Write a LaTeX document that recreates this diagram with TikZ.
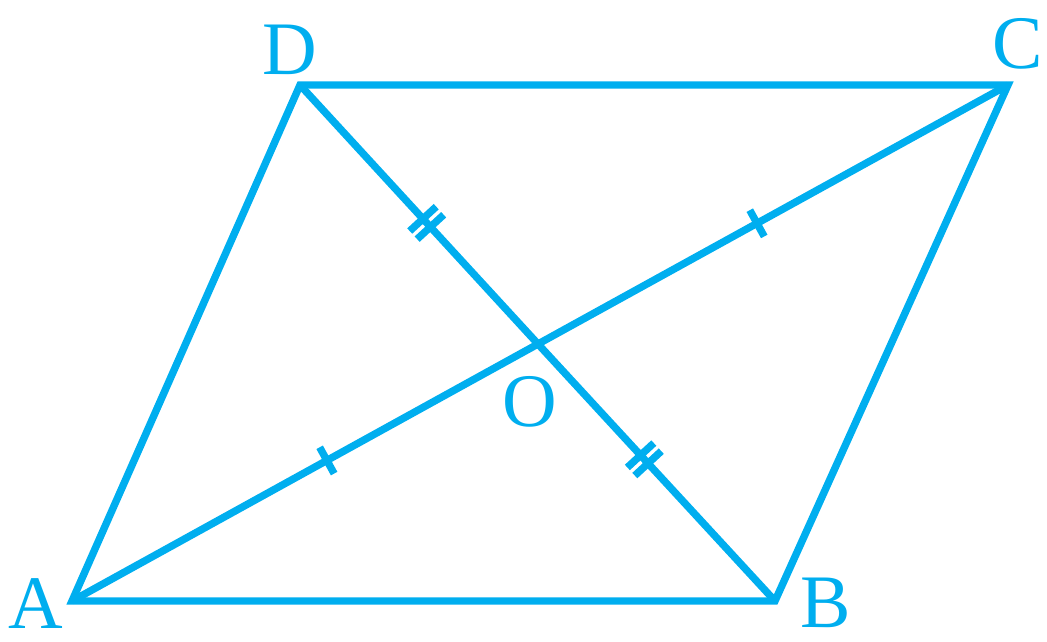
\documentclass[tikz,border=0pt]{standalone}
\usepackage{fontspec}
\setmainfont{Liberation Serif}
\usetikzlibrary{decorations.markings}
\definecolor{geo}{RGB}{0,174,239}
\tikzset{
  edge/.style={draw=geo, line width=2.1pt, line join=miter},
  lbl/.style={text=geo, font=\fontsize{21.5}{21.5}\selectfont, inner sep=0pt},
  onetick/.style={postaction={decorate, decoration={markings,
      mark=at position #1 with {\draw[geo, line width=2.1pt] (0,-1.5mm) -- (0,1.5mm);}}}},
  twotick/.style={postaction={decorate, decoration={markings,
      mark=at position #1 with {\draw[geo, line width=2.1pt] (-0.55mm,-1.8mm) -- (-0.55mm,1.8mm) (0.55mm,-1.8mm) -- (0.55mm,1.8mm);}}}}
}
\begin{document}
\begin{tikzpicture}[x=0.01cm, y=-0.01cm]
\useasboundingbox (0,0) rectangle (1047,641);
\coordinate (A) at (72,601);
\coordinate (B) at (775,601);
\coordinate (C) at (1008,85);
\coordinate (D) at (300,85);
\coordinate (O) at (538,344);
\draw[edge] (A) -- (B) -- (C) -- (D) -- cycle;
\draw[edge, onetick=0.547] (A) -- (O);
\draw[edge, onetick=0.466] (O) -- (C);
\draw[edge, twotick=0.534] (D) -- (O);
\draw[edge, twotick=0.45] (O) -- (B);
\node[lbl] (lA) at (36,604) {A};
\node[lbl] (lB) at (826,603) {B};
\node[lbl] (lC) at (1018,44) {C};
\node[lbl] (lD) at (290,50) {D};
\node[lbl] (lO) at (530,402) {O};
\end{tikzpicture}
\end{document}
